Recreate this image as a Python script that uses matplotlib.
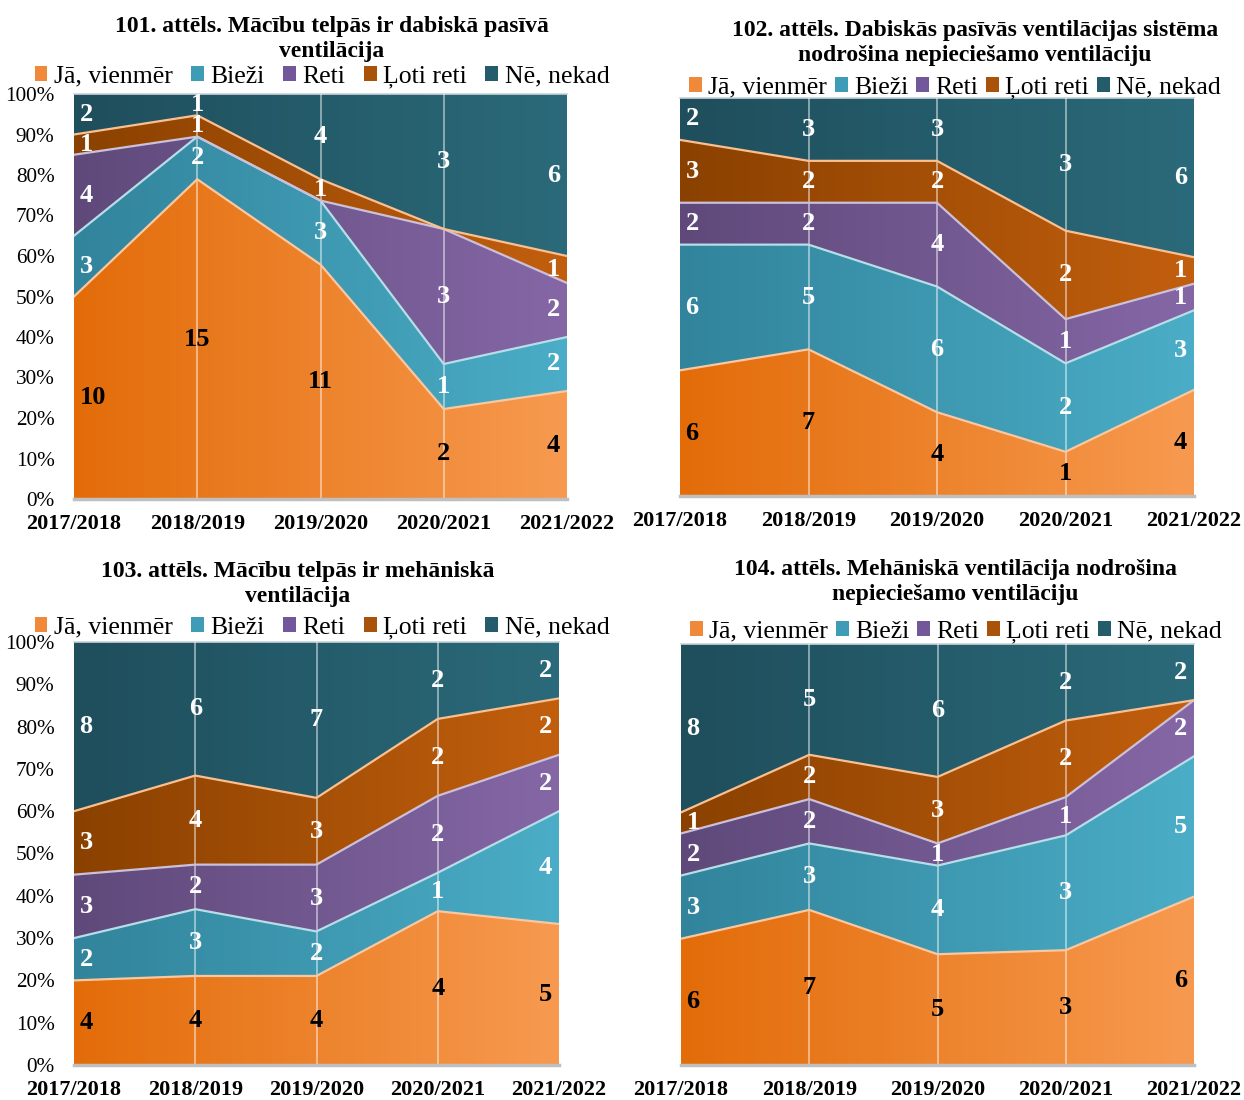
import numpy as np
import matplotlib.pyplot as plt
from matplotlib.colors import LinearSegmentedColormap
from matplotlib.patches import Patch

plt.rcParams['font.family'] = ['Liberation Serif', 'DejaVu Serif']

# Dati
gadi = ["2017/2018", "2018/2019", "2019/2020", "2020/2021", "2021/2022"]
atbildes = ["Jā, vienmēr", "Bieži", "Reti", "Ļoti reti", "Nē, nekad"]

# 101. attēls
ja_101 = [10, 15, 11, 2, 4]
biezi_101 = [3, 2, 3, 1, 2]
reti_101 = [4, 0, 0, 3, 2]
loti_101 = [1, 1, 1, 0, 1]
ne_101 = [2, 1, 4, 3, 6]

# 102. attēls
ja_102 = [6, 7, 4, 1, 4]
biezi_102 = [6, 5, 6, 2, 3]
reti_102 = [2, 2, 4, 1, 1]
loti_102 = [3, 2, 2, 2, 1]
ne_102 = [2, 3, 3, 3, 6]

# 103. attēls
ja_103 = [4, 4, 4, 4, 5]
biezi_103 = [2, 3, 2, 1, 4]
reti_103 = [3, 2, 3, 2, 2]
loti_103 = [3, 4, 3, 2, 2]
ne_103 = [8, 6, 7, 2, 2]

# 104. attēls
ja_104 = [6, 7, 5, 3, 6]
biezi_104 = [3, 3, 4, 3, 5]
reti_104 = [2, 2, 1, 1, 2]
loti_104 = [1, 2, 3, 2, 0]
ne_104 = [8, 5, 6, 2, 2]

virsraksti = [
    "101. attēls. Mācību telpās ir dabiskā pasīvā\nventilācija",
    "102. attēls. Dabiskās pasīvās ventilācijas sistēma\nnodrošina nepieciešamo ventilāciju",
    "103. attēls. Mācību telpās ir mehāniskā\nventilācija",
    "104. attēls. Mehāniskā ventilācija nodrošina\nnepieciešamo ventilāciju",
]
dati = [
    [ja_101, biezi_101, reti_101, loti_101, ne_101],
    [ja_102, biezi_102, reti_102, loti_102, ne_102],
    [ja_103, biezi_103, reti_103, loti_103, ne_103],
    [ja_104, biezi_104, reti_104, loti_104, ne_104],
]

# Krāsas (gradients no kreisās uz labo)
tumsas = ["#E36C09", "#31849B", "#5F497A", "#8A4100", "#1F4E5C"]
gaismas = ["#F79A50", "#4BADC7", "#8567A6", "#C25F0E", "#2B6A7A"]
malas = ["#FAC8A0", "#B7DEE8", "#CCC0DA", "#FAC090", "#9CC3CC"]
vidus = ["#F08A3A", "#3E9CB6", "#72579A", "#A8520A", "#255C6C"]

W, H = 1244, 1100
fig = plt.figure(figsize=(W / 100, H / 100), dpi=100)

# pikseļu novietojums: (kreisā, augša, labā, apakša), virsraksts (x, y), leģenda (x, y), y ass, kolonnu atstarpe
izkartojums = [
    ((74, 94, 567, 499), (332, 39), (322, 77), True, 0.72),
    ((680, 98, 1194, 496), (975, 43), (955, 88), False, 0.3),
    ((74, 642, 559, 1065), (298, 584), (322, 628), True, 0.72),
    ((681, 644, 1194, 1065), (955, 582), (956, 632), False, 0.3),
]

x = np.arange(len(gadi))
grad = np.linspace(0, 1, 256).reshape(1, -1)

for k in range(4):
    (l, t, r, b), (tx, ty), (lx, ly), ar_y, kol = izkartojums[k]
    ax = fig.add_axes([l / W, 1 - b / H, (r - l) / W, (b - t) / H])
    vertibas = np.array(dati[k], dtype=float)
    kopa = vertibas.sum(axis=0)
    dalas = vertibas / kopa
    apaksa = np.zeros(len(gadi))
    for i in range(5):
        augsa = apaksa + dalas[i]
        poly = ax.fill_between(x, apaksa, augsa, facecolor="none", edgecolor="none")
        cmap = LinearSegmentedColormap.from_list(f"g{i}", [tumsas[i], gaismas[i]])
        im = ax.imshow(grad, extent=(0, 4, 0, 1), aspect="auto", cmap=cmap,
                       origin="lower", zorder=1, interpolation="bilinear")
        im.set_clip_path(poly.get_paths()[0], transform=ax.transData)
        if i < 4:
            ax.plot(x, augsa, color=malas[i], lw=1.6, zorder=4, solid_joinstyle="miter")
        # datu etiķetes
        for j in range(len(gadi)):
            v = int(vertibas[i, j])
            if v == 0:
                continue
            yc = (apaksa[j] + augsa[j]) / 2
            krasa = "black" if i == 0 else "white"
            if j == 0:
                ax.annotate(str(v), (x[j], yc), xytext=(4, 0), textcoords="offset points",
                            ha="left", va="center", fontsize=19, fontweight="bold",
                            color=krasa, zorder=5)
            elif j == len(gadi) - 1:
                ax.annotate(str(v), (x[j], yc), xytext=(-5, 0), textcoords="offset points",
                            ha="right", va="center", fontsize=19, fontweight="bold",
                            color=krasa, zorder=5)
            else:
                ax.text(x[j], yc, str(v), ha="center", va="center", fontsize=19,
                        fontweight="bold", color=krasa, zorder=5)
        apaksa = augsa

    for xv in [1, 2, 3]:
        ax.axvline(xv, color="white", alpha=0.55, lw=1.2, zorder=3)

    ax.set_xlim(0, 4)
    ax.set_ylim(0, 1)
    ax.set_xticks(x)
    ax.set_xticklabels(gadi, fontsize=16, fontweight="bold")
    ax.tick_params(axis="x", length=0, pad=11)
    if ar_y:
        ax.set_yticks(np.arange(0, 1.01, 0.1))
        ax.set_yticklabels([f"{p}%" for p in range(0, 101, 10)], fontsize=15.3,
                           family="Liberation Serif")
        ax.tick_params(axis="y", length=0, pad=14)
    else:
        ax.set_yticks([])
    for s in ["left", "right"]:
        ax.spines[s].set_visible(False)
    ax.spines["top"].set_color("#C8D3D8")
    ax.spines["top"].set_linewidth(1.2)
    ax.spines["bottom"].set_color("#BFBFBF")
    ax.spines["bottom"].set_linewidth(2.5)
    ax.spines["bottom"].set_zorder(6)

    fig.text(tx / W, 1 - ty / H, virsraksti[k], ha="center", va="center",
             fontsize=17, fontweight="bold", linespacing=1.22)
    rokturi = [Patch(facecolor=vidus[i], edgecolor="none") for i in range(5)]
    fig.legend(rokturi, atbildes, loc="center", bbox_to_anchor=(lx / W, 1 - ly / H),
               ncol=5, frameon=False, prop={"family": "Liberation Serif", "size": 18.5},
               handlelength=0.5, handleheight=0.5, handletextpad=0.25,
               columnspacing=kol, borderpad=0, borderaxespad=0)

fig.savefig("out.png", dpi=100)
